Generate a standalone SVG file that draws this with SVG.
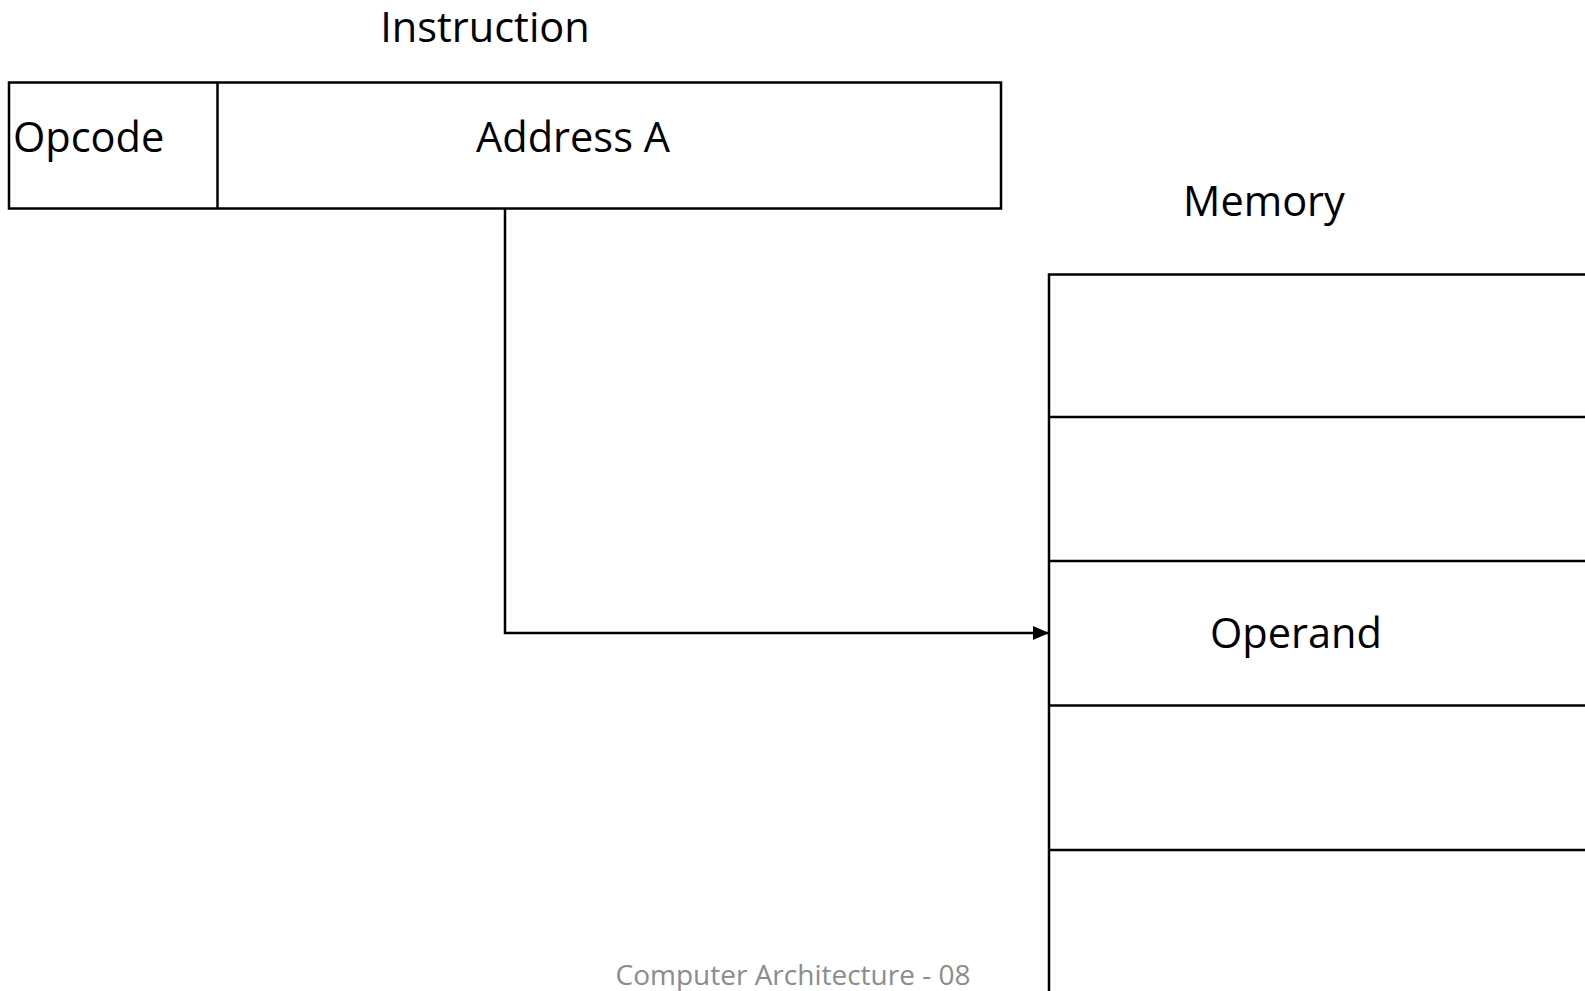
<svg xmlns="http://www.w3.org/2000/svg" width="1585" height="991" viewBox="0 0 1585 991">
  <style>
    .box { fill: #ffffff; stroke: #000000; stroke-width: 2.5; }
    .wire { fill: none; stroke: #000000; stroke-width: 2.5; }
    .lbl { font-family: "Open Sans", "Noto Sans", sans-serif; font-size: 41.5px; fill: #000000; }
    .foot { font-family: "Open Sans", "Noto Sans", sans-serif; font-size: 28px; fill: #8c8c8c; }
  </style>
  <defs>
    <marker id="arrow" markerUnits="userSpaceOnUse" markerWidth="16" markerHeight="14" refX="16" refY="7" orient="auto">
      <path d="M0,0 L16,7 L0,14 Z" fill="#000000"/>
    </marker>
  </defs>
  <rect width="1585" height="991" fill="#ffffff"/>

  <!-- instruction word: opcode field + address field -->
  <g id="instruction">
    <text class="lbl" x="485" y="42" text-anchor="middle">Instruction</text>
    <rect class="box" x="9" y="82.5" width="992" height="126"/>
    <line class="wire" x1="217.5" y1="82.5" x2="217.5" y2="208.5"/>
    <text class="lbl" x="13" y="152">Opcode</text>
    <text class="lbl" x="573" y="152" text-anchor="middle">Address A</text>
  </g>

  <!-- memory column, running off the right and bottom edges -->
  <g id="memory">
    <text class="lbl" x="1264" y="216" text-anchor="middle">Memory</text>
    <rect class="box" x="1049" y="274.5" width="560" height="740"/>
    <line class="wire" x1="1049" y1="417" x2="1585" y2="417"/>
    <line class="wire" x1="1049" y1="561" x2="1585" y2="561"/>
    <line class="wire" x1="1049" y1="705.5" x2="1585" y2="705.5"/>
    <line class="wire" x1="1049" y1="850" x2="1585" y2="850"/>
    <text class="lbl" x="1296" y="648" text-anchor="middle">Operand</text>
  </g>

  <!-- address field points at the operand cell -->
  <g id="connectors">
    <path class="wire" d="M505,208.5 V633 H1049" marker-end="url(#arrow)"/>
  </g>

  <g id="footer">
    <text class="foot" x="793" y="985" text-anchor="middle">Computer Architecture - 08</text>
  </g>
</svg>
